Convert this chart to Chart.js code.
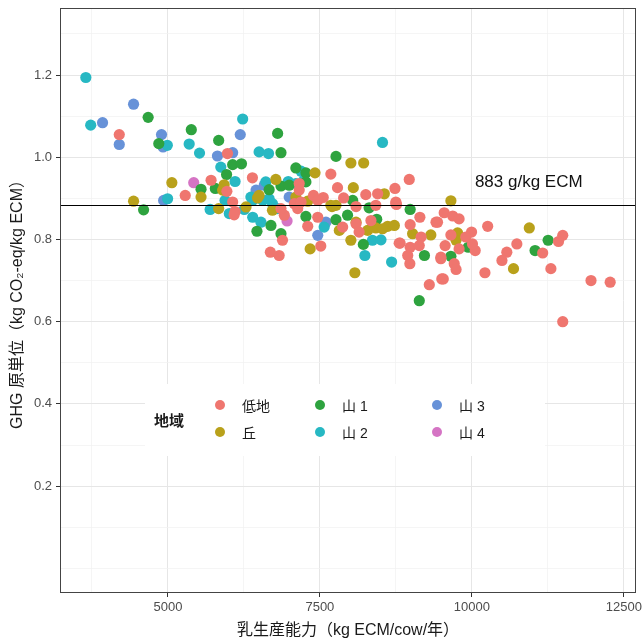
<!DOCTYPE html>
<html>
<head>
<meta charset="utf-8">
<script src="https://cdn.jsdelivr.net/npm/chart.js@4/dist/chart.umd.min.js"></script>
<style>
  body { margin: 0; background: #fff; }
  canvas { display: block; }
</style>
</head>
<body>
<canvas id="ghgChart" width="643" height="642"></canvas>
<script>
// Regions (legend order) and their point colours
const regions = ['低地', '丘', '山 1', '山 2', '山 3', '山 4'];
const regionColors = ['#EF766F', '#B9A11B', '#2EA33F', '#27B8C3', '#6792D8', '#D574C4'];

// [milk yield (kg ECM/cow/year), GHG intensity (kg CO2-eq/kg ECM)]
const lowland = [
  [4200,1.055],[5980,1.009],[6390,0.950],[5710,0.944],[5970,0.917],[5285,0.907],[6065,0.891],
  [6105,0.868],[7160,0.936],[7680,0.959],[7790,0.926],[8255,0.909],[8450,0.911],[8735,0.924],
  [7890,0.901],[7395,0.907],[7555,0.902],[8095,0.880],[8750,0.891],[6090,0.860],[6915,0.859],
  [6885,0.798],[6685,0.769],[6830,0.761],[7300,0.832],[7515,0.784],[8805,0.791],[8340,0.846],
  [9300,0.690],[9505,0.704],[8980,0.741],[8945,0.761],[8820,0.791],[8985,0.781],[9135,0.785],
  [9165,0.806],[8985,0.836],[9145,0.854],[9410,0.842],[9490,0.753],[8760,0.885],[8420,0.883],
  [8095,0.838],[7875,0.830],[7465,0.854],[7465,0.895],[8970,0.946],[8750,0.887],[9545,0.865],
  [9685,0.857],[9790,0.850],[9435,0.842],[10260,0.832],[11495,0.810],[11425,0.795],[11165,0.767],
  [11300,0.729],[10740,0.789],[10575,0.769],[10495,0.749],[10215,0.719],[11960,0.700],[12275,0.696],
  [11495,0.600],[9655,0.811],[9995,0.818],[9900,0.806],[10055,0.773],[10010,0.789],[9560,0.785],
  [9790,0.777],[9490,0.757],[9710,0.741],[9740,0.727],[9530,0.704],[6860,0.875],[7080,0.887],
  [7190,0.891],[7160,0.920],[7135,0.875],[8145,0.818]
];
const hill = [
  [5065,0.938],[5925,0.933],[5900,0.920],[5545,0.903],[4435,0.893],[5835,0.875],[6475,0.901],
  [6500,0.907],[6775,0.946],[7420,0.962],[8010,0.986],[8220,0.986],[8050,0.926],[8560,0.911],
  [7700,0.880],[7340,0.777],[7820,0.822],[8095,0.842],[8010,0.798],[8075,0.719],[8420,0.828],
  [8615,0.832],[9025,0.814],[9325,0.811],[8285,0.822],[8530,0.826],[8725,0.834],[7300,0.893],
  [7680,0.883],[9655,0.894],[10945,0.828],[10685,0.729],[9765,0.816],[9740,0.798],[6720,0.871],
  [7105,0.903],[6285,0.879],[7765,0.883]
];
const mountain1 = [
  [4675,1.097],[5385,1.067],[4850,1.033],[5835,1.041],[6065,0.982],[6210,0.984],[5965,0.958],
  [5780,0.924],[5545,0.922],[4600,0.872],[6465,0.820],[6805,1.058],[6860,1.011],[6665,0.921],
  [6860,0.930],[6995,0.932],[7105,0.974],[7270,0.962],[7765,1.002],[8040,0.895],[8310,0.877],
  [6695,0.834],[6860,0.814],[7270,0.856],[7765,0.848],[7955,0.859],[8215,0.788],[9135,0.651],
  [9220,0.761],[8985,0.873],[8435,0.849],[11255,0.798],[11040,0.773],[9940,0.781],[9655,0.759],
  [7270,0.940]
];
const mountain2 = [
  [3650,1.194],[3730,1.078],[6230,1.093],[4990,1.029],[5350,1.032],[5520,1.010],[6500,1.013],
  [5870,0.976],[6105,0.941],[4995,0.899],[5695,0.873],[5940,0.895],[6010,0.863],[6255,0.873],
  [6395,0.854],[6530,0.842],[6395,0.895],[6655,1.009],[6610,0.940],[6980,0.941],[7190,0.966],
  [7240,0.944],[8530,1.036],[7570,0.830],[8365,0.798],[8505,0.799],[8240,0.761],[8680,0.745],
  [7105,0.936],[6365,0.903],[6560,0.895],[6665,0.899],[6720,0.887],[6805,0.875]
];
const mountain3 = [
  [4435,1.129],[3925,1.084],[4200,1.031],[6190,1.055],[4895,1.055],[4920,1.025],[5815,1.003],
  [6065,1.011],[4930,0.895],[6450,0.920],[6585,0.932],[7465,0.810],[7600,0.842],[6995,0.903]
];
const mountain4 = [[5425,0.938],[6960,0.845]];

const seriesData = [lowland, hill, mountain1, mountain2, mountain3, mountain4];

// Axis ticks: every value gets a grid line, only the labelled ones get a label/tick mark
const xTickValues = [3750, 5000, 6250, 7500, 8750, 10000, 11250, 12500];
const xTickLabels = [5000, 7500, 10000, 12500];
const yTickValues = [0, 0.1, 0.2, 0.3, 0.4, 0.5, 0.6, 0.7, 0.8, 0.9, 1.0, 1.1, 1.2, 1.3];
const yTickLabels = [0.2, 0.4, 0.6, 0.8, 1.0, 1.2];

const refLineValue = 0.883;
const refLineText = '883 g/kg ECM';

const FONT = "'Liberation Sans', Arial, 'Noto Sans CJK JP', sans-serif";
Chart.defaults.font.family = FONT;

function isLabelled(list, v) {
  return list.some(t => Math.abs(t - v) < 1e-6);
}

// Panel border, reference line and its text
const panelPlugin = {
  id: 'panelDecor',
  afterDatasetsDraw(chart) {
    const { ctx, chartArea, scales } = chart;
    const y = Math.round(scales.y.getPixelForValue(refLineValue)) + 0.5;
    ctx.save();
    ctx.strokeStyle = '#000';
    ctx.lineWidth = 1.1;
    ctx.beginPath();
    ctx.moveTo(chartArea.left, y);
    ctx.lineTo(chartArea.right, y);
    ctx.stroke();
    ctx.fillStyle = '#111';
    ctx.font = '17px ' + FONT;
    ctx.textBaseline = 'middle';
    ctx.fillText(refLineText, scales.x.getPixelForValue(10050), scales.y.getPixelForValue(0.94));
    ctx.restore();
  },
  afterDraw(chart) {
    const { ctx, chartArea } = chart;
    ctx.save();
    ctx.strokeStyle = '#444';
    ctx.lineWidth = 1;
    ctx.strokeRect(chartArea.left + 0.5, chartArea.top + 0.5,
      chartArea.right - chartArea.left - 1, chartArea.bottom - chartArea.top - 1);
    ctx.restore();
  }
};

// Legend box drawn inside the panel, like the ggplot one
const legendPlugin = {
  id: 'regionLegend',
  afterDraw(chart) {
    const ctx = chart.ctx;
    ctx.save();
    ctx.fillStyle = '#fff';
    ctx.fillRect(145, 384, 400, 72);
    ctx.fillStyle = '#1a1a1a';
    ctx.textBaseline = 'middle';
    ctx.font = 'bold 15px ' + FONT;
    ctx.fillText('地域', 154, 422);
    const cols = [220, 320, 437];
    const rows = [405, 432];
    ctx.font = '14px ' + FONT;
    regions.forEach((name, i) => {
      const cx = cols[Math.floor(i / 2)];
      const cy = rows[i % 2];
      ctx.fillStyle = regionColors[i];
      ctx.beginPath();
      ctx.arc(cx, cy, 5, 0, Math.PI * 2);
      ctx.fill();
      ctx.fillStyle = '#1a1a1a';
      ctx.fillText(name, cx + 22, cy + 2);
    });
    ctx.restore();
  }
};

new Chart(document.getElementById('ghgChart'), {
  type: 'scatter',
  data: {
    datasets: regions.map((name, i) => ({
      label: name,
      data: seriesData[i].map(([x, y]) => ({ x, y })),
      backgroundColor: regionColors[i],
      borderWidth: 0,
      pointRadius: 5.6,
      pointHoverRadius: 5.6
    }))
  },
  options: {
    responsive: false,
    devicePixelRatio: 1,
    animation: false,
    layout: { padding: { top: 8, right: 7, bottom: 0, left: 0 } },
    plugins: {
      legend: { display: false },
      tooltip: { enabled: false }
    },
    scales: {
      x: {
        type: 'linear',
        min: 3225,
        max: 12700,
        afterBuildTicks: scale => { scale.ticks = xTickValues.map(v => ({ value: v })); },
        afterFit: scale => {
          scale.height = 49;
          scale.paddingLeft = 0;
          scale.paddingRight = 0;
        },
        border: { display: false },
        grid: {
          color: c => isLabelled(xTickLabels, c.tick.value) ? '#e6e6e6' : '#f1f1f1',
          lineWidth: c => isLabelled(xTickLabels, c.tick.value) ? 1 : 0.7,
          tickColor: c => isLabelled(xTickLabels, c.tick.value) ? '#333' : 'rgba(0,0,0,0)',
          tickLength: 4
        },
        ticks: {
          autoSkip: false,
          maxRotation: 0,
          padding: 3,
          color: '#4d4d4d',
          font: { size: 13 },
          callback: v => isLabelled(xTickLabels, v) ? String(v) : ''
        },
        title: {
          display: true,
          text: '乳生産能力（kg ECM/cow/年）',
          color: '#1a1a1a',
          font: { size: 16 },
          padding: { top: 0, bottom: 2 }
        }
      },
      y: {
        type: 'linear',
        min: -0.06,
        max: 1.363,
        afterBuildTicks: scale => { scale.ticks = yTickValues.map(v => ({ value: v })); },
        afterFit: scale => {
          scale.width = 60;
          scale.paddingTop = 0;
          scale.paddingBottom = 0;
        },
        border: { display: false },
        grid: {
          color: c => isLabelled(yTickLabels, c.tick.value) ? '#e6e6e6' : '#f1f1f1',
          lineWidth: c => isLabelled(yTickLabels, c.tick.value) ? 1 : 0.7,
          tickColor: c => isLabelled(yTickLabels, c.tick.value) ? '#333' : 'rgba(0,0,0,0)',
          tickLength: 4
        },
        ticks: {
          autoSkip: false,
          padding: 4,
          color: '#4d4d4d',
          font: { size: 13 },
          callback: v => isLabelled(yTickLabels, v) ? v.toFixed(1) : ''
        },
        title: {
          display: true,
          text: 'GHG 原単位（kg CO₂-eq/kg ECM）',
          color: '#1a1a1a',
          font: { size: 16 },
          padding: { top: 8, bottom: 0 }
        }
      }
    }
  },
  plugins: [panelPlugin, legendPlugin]
});
</script>
</body>
</html>
